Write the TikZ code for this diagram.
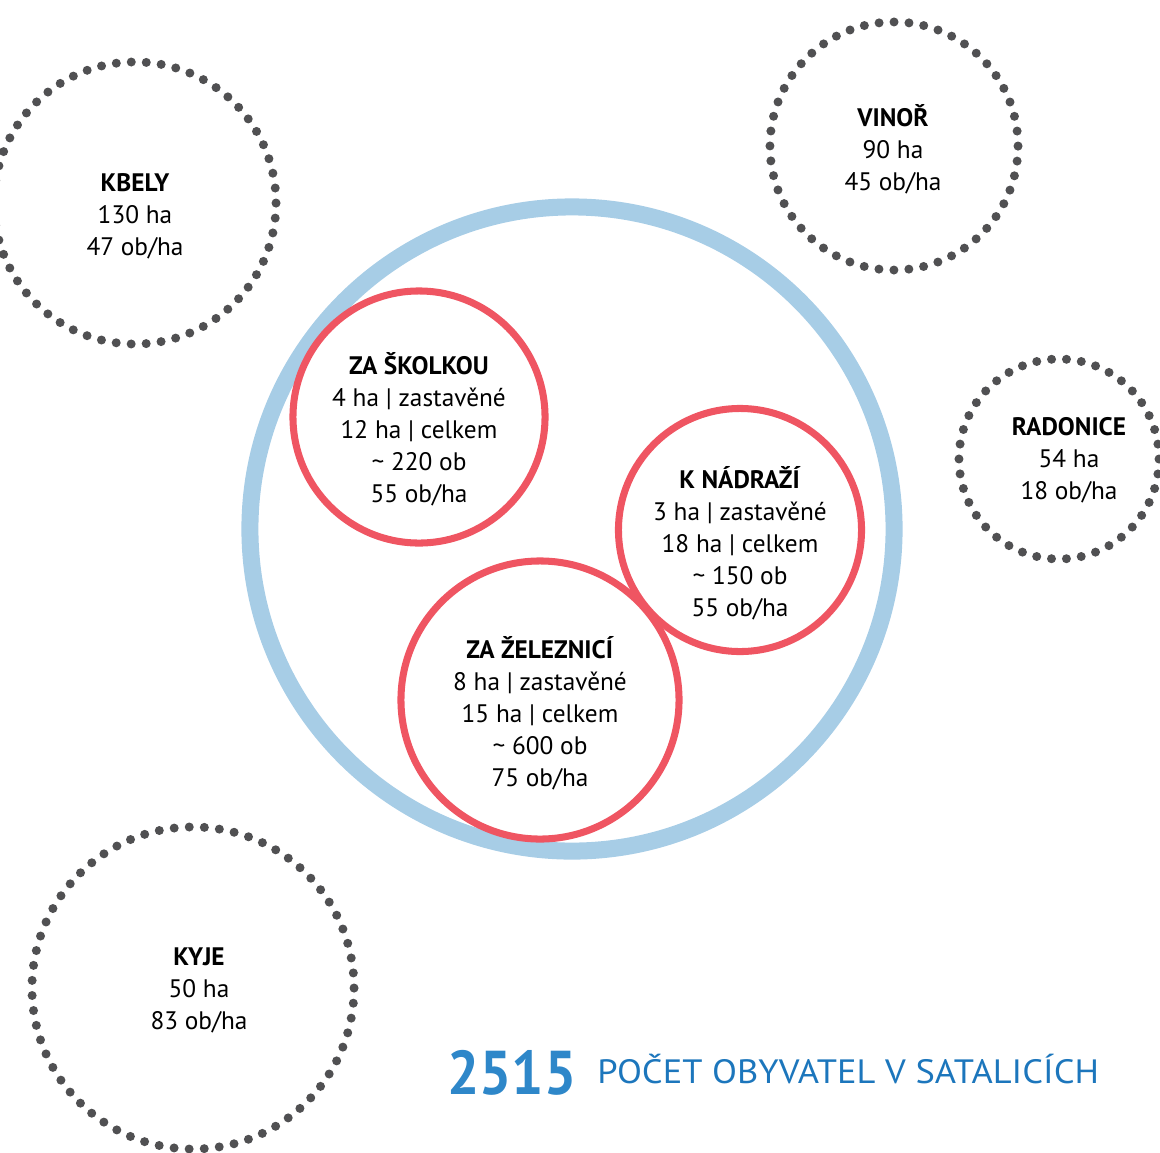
\documentclass[tikz,border=0pt]{standalone}
\usepackage{fontspec}
\setmainfont{PT Sans}
\newfontfamily\numfont[FakeStretch=0.92]{PT Sans}
\newfontfamily\capfont[FakeStretch=1.08]{PT Sans}
\usepackage{tikz}
\definecolor{ringblue}{HTML}{A7CDE6}
\definecolor{zonered}{HTML}{EF5562}
\definecolor{dotgray}{HTML}{505052}
\definecolor{numblue}{HTML}{2E87C9}
\definecolor{capblue}{HTML}{1C76BC}

\begin{document}
\begin{tikzpicture}[
  x=0.025cm,y=-0.025cm,
  ring/.style={circle,draw=ringblue,line width=12.1pt,inner sep=0pt},
  zone/.style={circle,draw=zonered,line width=5pt,inner sep=0pt},
  obec/.style={circle,draw=dotgray,line width=6.4pt,line cap=round,inner sep=0pt},
  txt/.style={align=center,inner sep=0pt,font=\fontsize{18}{22.8}\selectfont},
]
\useasboundingbox (0,0) rectangle (1160,1153);

% Satalice and its three zones
\node[ring,minimum size=16.1cm] (satalice) at (572,529) {};
\node[zone,minimum size=6.3cm]   (skolka)   at (419,417) {};
\node[zone,minimum size=6.075cm] (nadrazi)  at (740,530) {};
\node[zone,minimum size=6.95cm]  (zeleznice) at (540,700) {};

% neighbouring villages
\node[obec,minimum size=7.05cm,dash pattern=on 0pt off 10.681pt] (kbely)    at (135,203) {};
\node[obec,minimum size=6.2cm, dash pattern=on 0pt off 10.657pt] (vinor)    at (894,146) {};
\node[obec,minimum size=5cm,   dash pattern=on 0pt off 10.641pt] (radonice) at (1059,459) {};
\node[obec,minimum size=8.05cm,dash pattern=on 0pt off 10.740pt] (kyje)     at (193,988) {};

\node[txt] (skolkatxt) at (419,429)
  {\textbf{ZA ŠKOLKOU}\\4 ha | zastavěné\\12 ha | celkem\\\textasciitilde{} 220 ob\\55 ob/ha};
\node[txt] (nadrazitxt) at (740,543)
  {\textbf{K NÁDRAŽÍ}\\3 ha | zastavěné\\18 ha | celkem\\\textasciitilde{} 150 ob\\55 ob/ha};
\node[txt] (zeleznicetxt) at (540,713)
  {\textbf{ZA ŽELEZNICÍ}\\8 ha | zastavěné\\15 ha | celkem\\\textasciitilde{} 600 ob\\75 ob/ha};

\node[txt] (kbelytxt)    at (135,216)  {\textbf{KBELY}\\130 ha\\47 ob/ha};
\node[txt] (vinortxt)    at (893,149)  {\textbf{VINOŘ}\\90 ha\\45 ob/ha};
\node[txt] (radonicetxt) at (1069,460) {\textbf{RADONICE}\\54 ha\\18 ob/ha};
\node[txt] (kyjetxt)     at (199,990)  {\textbf{KYJE}\\50 ha\\83 ob/ha};

% population
\node[anchor=base west,inner sep=0pt,text=numblue,font=\numfont\bfseries\fontsize{44}{44}\selectfont]
  (pocet) at (447,1094) {2515};
\node[anchor=base west,inner sep=0pt,text=capblue,font=\capfont\fontsize{24}{24}\selectfont]
  (popis) at (597,1083) {POČET OBYVATEL V SATALICÍCH};

\end{tikzpicture}
\end{document}
